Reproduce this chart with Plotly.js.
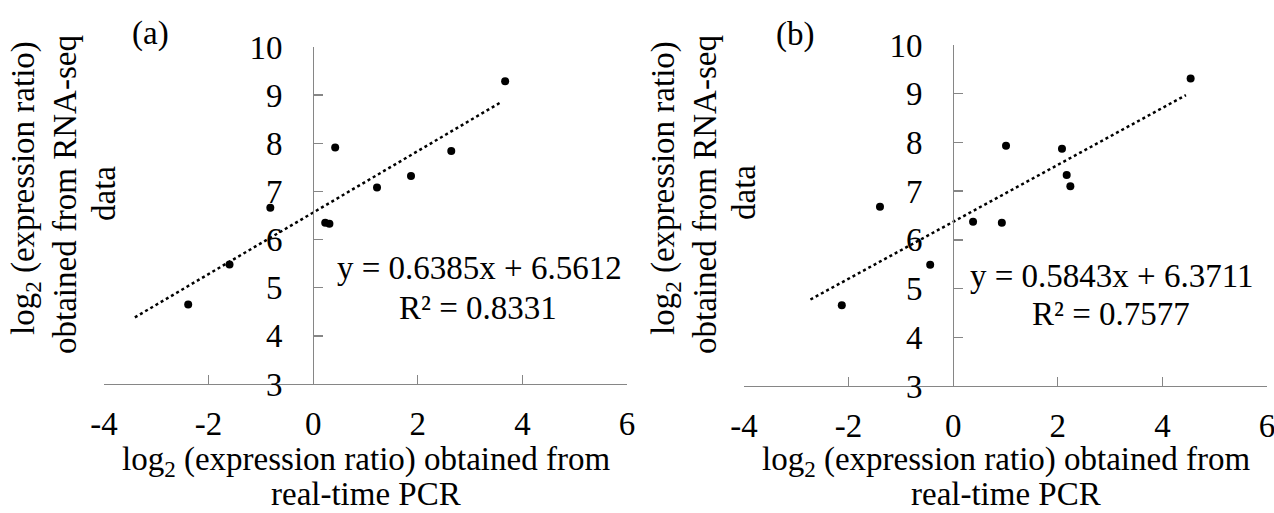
<!DOCTYPE html>
<html>
<head>
<meta charset="utf-8">
<script src="https://cdn.plot.ly/plotly-3.0.1.min.js"></script>
<style>html,body{margin:0;padding:0;background:#fff;}#chart{width:1274px;height:513px;}</style>
</head>
<body>
<div id="chart"></div>
<script>
// RNA-seq log2 ratios (y) and real-time PCR log2 ratios (x)
const rnaSeqA = [9.29, 7.91, 7.84, 7.32, 7.08, 6.66, 6.35, 6.33, 5.48, 4.65];
const pcrA    = [3.67, 0.42, 2.64, 1.87, 1.22, -0.82, 0.23, 0.31, -1.60, -2.39];
const rnaSeqB = [9.31, 7.93, 7.87, 7.33, 7.10, 6.68, 6.37, 6.35, 5.49, 4.66];
const pcrB    = [4.54, 1.01, 2.08, 2.17, 2.24, -1.40, 0.38, 0.93, -0.44, -2.13];

// linear trendlines (Excel-style) and their x extents
const slopes     = [0.6385, 0.5843];
const intercepts = [6.5612, 6.3711];
const trendFrom  = [-3.41, -2.73];
const trendTo    = [3.61, 4.45];
const equations  = ["y = 0.6385x + 6.5612", "y = 0.5843x + 6.3711"];
const rSquared   = ["R² = 0.8331", "R² = 0.7577"];
const panelTags  = ["(a)", "(b)"];

const xTickVals = [-4, -2, 0, 2, 4, 6];
const xTickText = ["-4", "-2", "0", "2", "4", "6"];
const yTickVals = [3, 4, 5, 6, 7, 8, 9, 10];
const yTickText = ["3", "4", "5", "6", "7", "8", "9", "10"];

const xTitleLines = ["log<sub>2</sub> (expression ratio) obtained from", "real-time PCR"];
const yTitleLines = ["log<sub>2</sub> (expression ratio)", "obtained from RNA-seq", "data"];

const W = 1274, H = 513;
const FONT = "Liberation Serif";
const AX = "#868686";
const px = v => v / W;
const py = v => 1 - v / H;

function trend(i, xa, ya) {
  const xs = [trendFrom[i], trendTo[i]];
  return {
    x: xs, y: xs.map(v => slopes[i] * v + intercepts[i]),
    xaxis: xa, yaxis: ya, mode: "lines", type: "scatter",
    line: {color: "#000", width: 2.5, dash: "dot"}, hoverinfo: "skip"
  };
}
function pts(xs, ys, xa, ya) {
  return {x: xs, y: ys, xaxis: xa, yaxis: ya, mode: "markers", type: "scatter",
          marker: {color: "#000", size: 8}};
}

const data = [
  trend(0, "x", "y"), pts(pcrA, rnaSeqA, "x", "y"),
  trend(1, "x2", "y2"), pts(pcrB, rnaSeqB, "x2", "y2")
];

function xAxis(dom, anchor) {
  return {domain: dom, range: [-4, 6], anchor: anchor, tickvals: xTickVals, ticktext: xTickText,
    ticks: "inside", ticklen: 9, tickwidth: 1.3, tickcolor: AX, showline: true, linecolor: AX, linewidth: 1.3,
    showgrid: false, zeroline: false, ticklabelstandoff: 10, ticklabeloverflow: "allow",
    tickfont: {family: FONT, size: 33, color: "#000"}};
}
function yAxis(dom, pos) {
  return {domain: dom, range: [3, 10], anchor: "free", position: pos, tickvals: yTickVals, ticktext: yTickText,
    ticks: "inside", ticklen: 9, tickwidth: 1.3, tickcolor: AX, showline: true, linecolor: AX, linewidth: 1.3,
    showgrid: false, zeroline: false, ticklabelstandoff: 24, ticklabeloverflow: "allow",
    tickfont: {family: FONT, size: 33, color: "#000"}};
}

const ann = [];
function txt(text, x, y, opts) {
  ann.push(Object.assign({text: text, x: px(x), y: py(y), xref: "paper", yref: "paper",
    xanchor: "center", yanchor: "middle", showarrow: false,
    font: {family: FONT, size: 33, color: "#000"}}, opts || {}));
}
// panel offsets: y-axis at x=313 (a) and x=953 (b)
const axisX = [313, 953];
const eqY = [[268, 308], [276, 314]];
const eqX = [479, 1112];
const tagPos = [[150, 33], [795, 35]];
const xTitleX = [366, 1006];
for (let i = 0; i < 2; i++) {
  txt(panelTags[i], tagPos[i][0], tagPos[i][1]);
  txt(equations[i], eqX[i], eqY[i][0]);
  txt(rSquared[i], eqX[i] - 1, eqY[i][1]);
  txt(xTitleLines[0], xTitleX[i], 461);
  txt(xTitleLines[1], xTitleX[i], 494);
  txt(yTitleLines[0], axisX[i] - 288, 188, {textangle: -90});
  txt(yTitleLines[1], axisX[i] - 248, 195, {textangle: -90});
  txt(yTitleLines[2], axisX[i] - 209, 193, {textangle: -90});
}

const layout = {
  width: W, height: H, margin: {l: 0, r: 0, t: 0, b: 0},
  paper_bgcolor: "#fff", plot_bgcolor: "#fff", showlegend: false,
  font: {family: FONT},
  xaxis: xAxis([px(104), px(627)], "y"),
  yaxis: yAxis([py(384), py(47)], px(313)),
  xaxis2: xAxis([px(744), px(1267)], "y2"),
  yaxis2: yAxis([py(386), py(45)], px(953)),
  annotations: ann
};

Plotly.newPlot("chart", data, layout, {staticPlot: true, displayModeBar: false});
</script>
</body>
</html>
